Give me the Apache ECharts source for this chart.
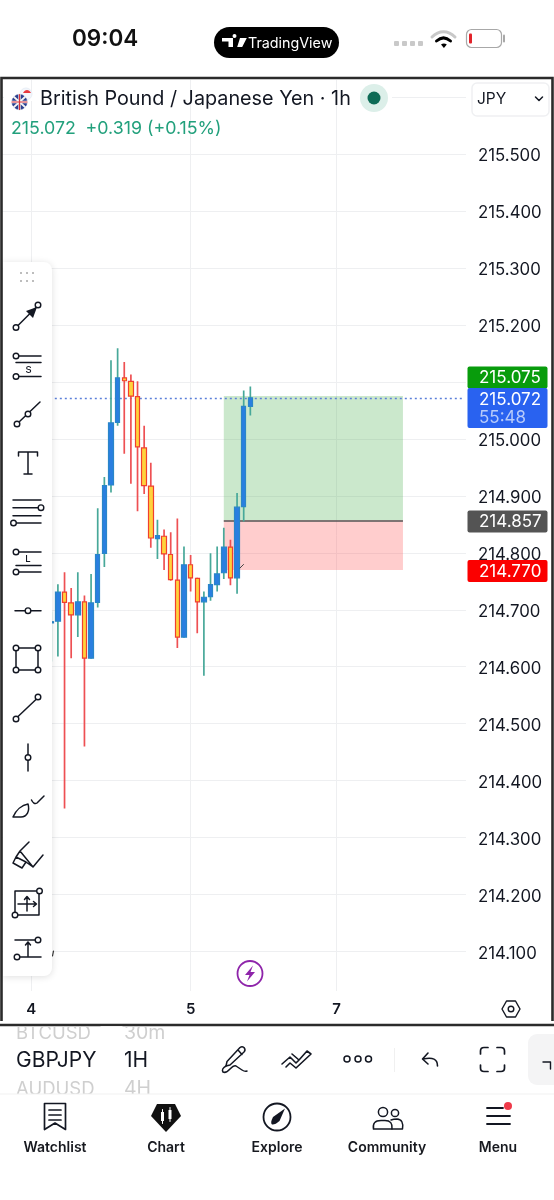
<!DOCTYPE html>
<html>
<head>
<meta charset="utf-8">
<title>GBPJPY 1H</title>
<style>html,body{margin:0;padding:0;background:#fff}#chart{width:554px;height:1200px}</style>
<script src="https://cdn.jsdelivr.net/npm/echarts@6/dist/echarts.min.js"></script>
</head>
<body>
<div id="chart"></div>
<script>
// Hourly GBP/JPY candles, oldest first
const opens  = [214.677,214.680,214.731,214.712,214.691,214.714,214.615,214.713,214.799,214.919,215.029,215.107,215.101,215.074,214.984,214.917,214.825,214.829,214.797,214.752,214.652,214.779,214.755,214.714,214.723,214.744,214.765,214.810,214.756,214.881,215.057];
const closes = [214.679,214.731,214.713,214.691,214.714,214.615,214.712,214.797,214.918,215.028,215.107,215.102,215.075,214.986,214.918,214.826,214.830,214.798,214.753,214.652,214.779,214.756,214.714,214.722,214.744,214.763,214.810,214.756,214.880,215.057,215.072];
const lows   = [214.609,214.618,214.351,214.615,214.652,214.460,214.614,214.704,214.775,214.906,215.023,214.974,214.921,214.873,214.903,214.809,214.789,214.770,214.751,214.633,214.651,214.732,214.659,214.584,214.716,214.732,214.754,214.743,214.728,214.855,215.041];
const highs  = [214.697,214.745,214.766,214.738,214.766,214.725,214.763,214.878,214.933,215.138,215.159,215.135,215.113,215.101,215.023,214.958,214.858,214.841,214.836,214.860,214.811,214.796,214.756,214.732,214.799,214.811,214.844,214.823,214.905,215.085,215.092];

// Time axis: slot count, first candle slot, and the day labels
const slotCount = 70;
const firstCandleSlot = 7;
const dayLabels = {4: '4', 28: '5', 50: '7'};

// Long position tool and the live price
const currentPrice = 215.072;
const targetPrice = 215.075;
const entryPrice = 214.857;
const stopPrice = 214.770;
const positionFromSlot = 33;
const positionToSlot = 60;

const slots = Array.from({length: slotCount}, (_, i) => String(i));
const candles = opens.map((o, i) => [firstCandleSlot + i, o, closes[i], lows[i], highs[i]]);

const FONT = 'Inter, "Noto Sans", sans-serif';
const INK = '#131722';
const GRID = '#eeeff1';
const Y_MIN = 214.0, Y_MAX = 215.63;

// Interface chrome around the plot, collected and drawn by one overlay series
const g = [];
let order = 1;
const stroke = (d, w = 1.5, c = INK, fill = null) => g.push({type: 'path', z2: order++, silent: true,
  shape: {pathData: d}, style: {fill: fill || 'none', stroke: c, lineWidth: w, lineCap: 'round', lineJoin: 'round'}});
const solid = (d, c = INK) => g.push({type: 'path', z2: order++, silent: true,
  shape: {pathData: d}, style: {fill: c, stroke: 'none'}});
const box = (x, y, width, height, fill, r = 0, extra = {}) => g.push({type: 'rect', z2: order++, silent: true,
  shape: {x, y, width, height, r}, style: Object.assign({fill}, extra)});
const ring = (cx, cy, r, c = INK, w = 1.4, fill = '#fff') => g.push({type: 'circle', z2: order++, silent: true,
  shape: {cx, cy, r}, style: {fill, stroke: c, lineWidth: w}});
const label = (x, y, text, size, fill = INK, weight = 400, align = 'left') => g.push({type: 'text', z2: order++, silent: true,
  style: {x, y, text, fill, font: `${weight} ${size}px ${FONT}`, align, verticalAlign: 'middle'}});

// Small horizontal strip that keeps the 215.6 rule out of the title row
box(4, 95, 388, 6, '#fff');

// Panel frame and the covers outside it
box(0, 0, 554, 77, '#fff');
box(0, 1025, 554, 175, '#fff');
g.push({type: 'rect', z2: order++, silent: true, shape: {x: 1.5, y: 78, width: 551, height: 947},
  style: {fill: 'none', stroke: '#2b2b2b', lineWidth: 2.6}});

// Status bar
label(72, 39, '09:04', 22.5, '#111', 600);
box(214, 27, 125, 31, '#000', 15.5);
solid('M222 38h11v9h-4.5v-5.5H222z M234.5 38a2 2 0 1 1 .01 0z M240 38h6.8l-4.6 9h-5z', '#fff');
label(248, 43.5, 'TradingView', 14.3, '#fff');
[394, 402, 410, 418].forEach(x => box(x, 41, 5, 5, '#c9c9c9', 1));
stroke('M432 37 C439 30 448 30 455 37', 3, '#c8c8c8');
stroke('M436.5 41 C441 37 446 37 450.5 41', 3, '#000');
solid('M441 44.5 C442.8 43 445 43 446.8 44.5 L443.9 48z', '#000');
box(466.5, 29.5, 35, 18, '#fff', 5, {stroke: '#a8a8a8', lineWidth: 1.2});
box(469, 33.5, 3, 10, '#e2232a', 1);
stroke('M504 35.5 v6', 2, '#a8a8a8');

// Title row
ring(26, 94, 6, '#e8eef6', 1, '#f3f6fb');
solid('M23 93 C25 89 29 89 31 93z', '#e8383d');
ring(19.5, 102, 7.6, '#2a3f8f', 0.5, '#2a3f8f');
stroke('M14 97 L25 107 M25 97 L14 107', 1.8, '#f4f4f4');
stroke('M19.5 94.5 V109.5 M12 102 H27', 2.4, '#f4f4f4');
stroke('M19.5 94.5 V109.5 M12 102 H27', 1.2, '#d8323b');
label(40, 99, 'British Pound / Japanese Yen \u00b7 1h', 19.8, INK);
ring(374, 98, 14, '#dcefe9', 0, '#dcefe9');
ring(374, 98, 6.5, '#0e6b56', 0, '#0e6b56');
box(472, 83, 77, 33, '#fff', 5, {stroke: '#eff0f2', lineWidth: 1.5});
label(477, 99, 'JPY', 15.5, INK);
stroke('M535.5 97 L539 100.5 L542.5 97', 1.5, INK);
label(11, 128.5, '215.072', 17.8, '#22a07c');
label(85.5, 128.5, '+0.319 (+0.15%)', 17.8, '#22a07c');

// Price tags on the axis
const tag = (y, h, fill, lines) => {
  box(467.5, y, 80, h, fill, 2);
  lines.forEach(([ty, t, c]) => label(479, ty, t, 17, c));
};
tag(366.5, 22, '#089c0c', [[378, targetPrice.toFixed(3), '#fff']]);
tag(388, 40, '#2962f0', [[400, currentPrice.toFixed(3), '#fff'], [418, '55:48', '#b7cbfa']]);
tag(510.5, 22, '#545454', [[522, entryPrice.toFixed(3), '#fff']]);
tag(560, 22, '#fb0000', [[572, stopPrice.toFixed(3), '#fff']]);

// Tiny stray drawing handles left on the chart
stroke('M240 568 L243.5 564.5', 1, '#444');
stroke('M53.5 951 L52.5 956', 1.2, '#333');

// Drawing toolbar
g.push({type: 'rect', z2: order++, silent: true, shape: {x: 3, y: 262, width: 49, height: 714, r: [0, 8, 8, 0]},
  style: {fill: '#fff', shadowBlur: 7, shadowColor: 'rgba(0,0,0,0.13)', shadowOffsetY: 1}});
[273, 281].forEach(y => [21, 27, 33].forEach(x => box(x - 1, y - 1, 2, 2, '#bdbdbd')));
stroke('M17.5 326 L36.5 307');
solid('M37 307 L26 311 L33 318z');
ring(16, 327.5, 2.8); ring(38, 305, 2.8);
stroke('M18 356 H41 M16 362.5 H41 M18 376.5 H41');
ring(16, 356, 2.8); ring(16, 376.5, 2.8);
label(28.5, 370, 'S', 9.5, INK, 500, 'center');
stroke('M19 422 L40 402');
ring(17, 424, 2.8); ring(28, 414, 2.8);
stroke('M18.5 456 V452 H37.5 V456 M28 452 V474 M24 474 H32');
stroke('M13 500 H41 M13 507.7 H38 M13 515.7 H41 M16 523 H41');
ring(41, 507.7, 2.8); ring(13.5, 523, 2.8);
stroke('M18.5 552 H41 M16 565.5 H41 M18.5 572 H41');
ring(16, 552, 2.8); ring(16, 572, 2.8);
label(28, 559, 'L', 9.5, INK, 500, 'center');
stroke('M15 610.7 H41');
ring(28, 610.7, 2.8);
stroke('M16 648 H38 V670 H16 Z');
[[16, 648], [38, 648], [16, 670], [38, 670]].forEach(([x, y]) => ring(x, y, 2.8));
stroke('M17.5 717 L36.5 699');
ring(16, 719, 2.8); ring(38, 697, 2.8);
stroke('M28 744 V771');
ring(28, 757.5, 2.8);
stroke('M13 817 C16 810 22 805 28 804 C30 811 27 817 21 817 Z M31.5 800 Q34 805 37 803 L44 796');
stroke('M29 842 L20 851 L16 857 L13 863 L22 868 L26 862 L33 867 L43 855 M16 857 L26 862 M20 851 L33 867');
stroke('M15 891 H39 V915 H15 Z');
stroke('M27 897 V911 M18 904 H36 M24.5 899.5 L27 896.5 L29.5 899.5 M33.5 901.5 L36.5 904 L33.5 906.5');
ring(39.5, 891, 2.8); ring(15, 915, 2.8);
stroke('M15 940 H35.5 M19.5 957 H41 M28 956 V942 M25.5 945 L28 942 L30.5 945');
ring(38, 940, 2.8); ring(17, 957, 2.8);

// Replay button and settings hexagon
ring(250, 973.5, 12.5, '#8e24aa', 1.8);
solid('M253 965.5 L245 975 H249.5 L247 981.5 L255 972 H250.5z', '#8e24aa');
stroke('M502 1009 L506.5 1001 H515.5 L520 1009 L515.5 1017 H506.5 Z', 1.4);
ring(511, 1009, 2.8, INK, 1.4);

// Symbol picker and quick actions
label(16, 1033, 'BTCUSD', 18.5, '#cfcfcf');
label(124, 1033, '30m', 19.5, '#cfcfcf');
label(16, 1089, 'AUDUSD', 18.5, '#cfcfcf');
label(124, 1089, '4H', 19.5, '#cfcfcf');
box(0, 1021, 554, 6, '#fff');
box(0, 1023.7, 554, 2.6, '#2b2b2b');
box(100.5, 1026.3, 22, 70, '#fff');
box(0, 1094, 554, 6, '#fff');
box(0, 1093.5, 554, 1, '#f1f1f1');
label(16, 1060.5, 'GBPJPY', 21, INK);
label(124, 1060.5, '1H', 21, INK);
stroke('M230 1065 L226 1066 L227 1061.5 L240 1047.5 Q242 1046 244 1047.5 Q246 1050 244 1052 Z M238 1050 L242 1054.5');
stroke('M226 1066 Q221 1069 223 1072 Q226 1073.5 230 1069 Q234 1065 236 1066 Q239 1068 242 1070 Q245 1072 247 1071');
stroke('M282 1064 L290 1057 L296 1063 L299 1060 L292 1054 M286 1067 L290 1063 L296 1068 L311 1054 L307 1051 L299 1060', 1.6);
[347, 358, 368.5].forEach(x => ring(x, 1059, 3, INK, 1.5));
box(394, 1048, 1, 24, '#f0f0f0');
stroke('M437.5 1066 C437.5 1059 433 1057 423 1059 M428 1053 L422.5 1059 L428 1064', 1.6);
stroke('M480.5 1054 V1051 Q480.5 1047.5 484 1047.5 H488 M497 1047.5 H501 Q504.5 1047.5 504.5 1051 V1054 M504.5 1065 V1068 Q504.5 1071.5 501 1071.5 H497 M488 1071.5 H484 Q480.5 1071.5 480.5 1068 V1065', 1.7);
box(528, 1034, 40, 51, '#f4f4f5', 9);
stroke('M543 1062 H550.5 V1069', 1.4);

// Bottom navigation
stroke('M44.5 1103.5 H65.5 V1129.5 L55 1123 L44.5 1129.5 Z M49 1110 H61 M49 1115 H61 M49 1120 H61', 1.7);
solid('M157 1104 H175 L181 1116 L166 1132 L151 1116 Z', '#111');
box(161, 1112, 3, 9, '#fff'); box(168.5, 1110, 3, 9, '#fff');
stroke('M162.5 1109.5 V1123.5 M170 1107.5 V1121.5', 1, '#fff');
ring(277, 1117, 13.5, INK, 1.8);
solid('M285 1108.5 L279.5 1121 Q275 1125 272 1124.5 Q270 1123 273 1117 Z');
ring(383, 1112, 4.6, INK, 1.5); ring(395, 1113, 3.6, INK, 1.5);
stroke('M373.5 1129 Q372 1120.5 381 1120.5 H385 Q393 1120.5 392 1129 Z');
stroke('M391 1120 Q393.5 1119 397 1119 Q404 1119.5 402.5 1129 H392');
stroke('M487 1108 H503 M487 1116 H510 M487 1124 H510', 1.8);
ring(508, 1106, 4, '#ef3a4a', 0, '#ef3a4a');
[[55, 'Watchlist'], [166, 'Chart'], [277, 'Explore'], [387, 'Community'], [498, 'Menu']]
  .forEach(([x, t]) => label(x, 1147.5, t, 14, '#17191f', 600, 'center'));

const chart = echarts.init(document.getElementById('chart'), null, {renderer: 'canvas'});

const vertical = k => [{xAxis: k, yAxis: 214.031}, {xAxis: k, yAxis: Y_MAX}];

chart.setOption({
  animation: false,
  backgroundColor: '#fff',
  grid: {left: 1.5, right: 88, top: 79.9, bottom: 191.4},
  xAxis: {
    type: 'category',
    data: slots,
    boundaryGap: true,
    axisLine: {show: false},
    axisTick: {show: false},
    splitLine: {show: false},
    axisLabel: {
      interval: 0,
      margin: -7,
      color: INK,
      fontFamily: FONT,
      fontSize: 15,
      fontWeight: 600,
      formatter: (v) => dayLabels[v] || ''
    }
  },
  yAxis: {
    type: 'value',
    position: 'right',
    min: Y_MIN,
    max: Y_MAX,
    interval: 0.1,
    axisLine: {show: false},
    axisTick: {show: false},
    splitLine: {show: true, showMinLine: false, showMaxLine: false, lineStyle: {color: GRID, width: 1}},
    axisLabel: {
      margin: 12,
      verticalAlign: 'top',
      lineHeight: 4,
      color: INK,
      fontFamily: FONT,
      fontSize: 16.8,
      showMaxLabel: false,
      formatter: (v) => (v < 214.05 || v > 215.55) ? '' : v.toFixed(3)
    }
  },
  series: [
    {
      name: 'Day rules',
      type: 'line',
      z: 0,
      data: [],
      silent: true,
      markLine: {
        z: 0,
        silent: true,
        symbol: 'none',
        label: {show: false},
        animation: false,
        lineStyle: {color: GRID, width: 1, type: 'solid'},
        data: Object.keys(dayLabels).map(k => vertical(Number(k)))
      }
    },
    {
      name: 'Position',
      type: 'line',
      z: 1,
      data: [],
      silent: true,
      markArea: {
        z: 1,
        silent: true,
        data: [
          [{xAxis: positionFromSlot, yAxis: entryPrice, itemStyle: {color: 'rgba(76,175,80,0.29)'}}, {xAxis: positionToSlot, yAxis: targetPrice}],
          [{xAxis: positionFromSlot, yAxis: stopPrice, itemStyle: {color: 'rgba(255,82,82,0.29)'}}, {xAxis: positionToSlot, yAxis: entryPrice}]
        ]
      },
      markLine: {
        z: 2,
        silent: true,
        symbol: 'none',
        label: {show: false},
        animation: false,
        data: [
          [{xAxis: positionFromSlot, yAxis: entryPrice, lineStyle: {color: '#555', width: 1.5, type: 'solid'}}, {xAxis: positionToSlot, yAxis: entryPrice}],
          [{xAxis: 0, yAxis: currentPrice, lineStyle: {color: '#5b7fd9', width: 1.3, type: [2, 3]}}, {xAxis: slotCount - 1, yAxis: currentPrice}]
        ]
      }
    },
    {
      name: 'Wicks',
      type: 'custom',
      z: 3,
      silent: true,
      clip: true,
      data: candles,
      encode: {x: 0, y: [1, 2, 3, 4]},
      renderItem: (params, api) => {
        const x = api.value(0);
        const up = api.value(2) >= api.value(1);
        const hi = api.coord([x, api.value(4)]);
        const lo = api.coord([x, api.value(3)]);
        return {type: 'line', shape: {x1: hi[0], y1: hi[1], x2: lo[0], y2: lo[1]},
          style: {stroke: up ? '#47a899' : '#ee5053', lineWidth: 1.7}};
      }
    },
    {
      name: 'GBPJPY',
      type: 'candlestick',
      z: 4,
      silent: true,
      barWidth: 5,
      data: candles.map(c => ({value: [c[0], c[1], c[2], Math.min(c[1], c[2]), Math.max(c[1], c[2])]})),
      encode: {x: 0, y: [1, 2, 3, 4]},
      itemStyle: {color: '#2a7fe0', color0: '#ffd23c', borderColor: '#2a86c8', borderColor0: '#f0402f', borderWidth: 1.2}
    },
    {
      name: 'Interface',
      type: 'custom',
      coordinateSystem: 'none',
      z: 50,
      silent: true,
      data: [0],
      renderItem: () => ({type: 'group', children: g})
    }
  ]
});
</script>
</body>
</html>
